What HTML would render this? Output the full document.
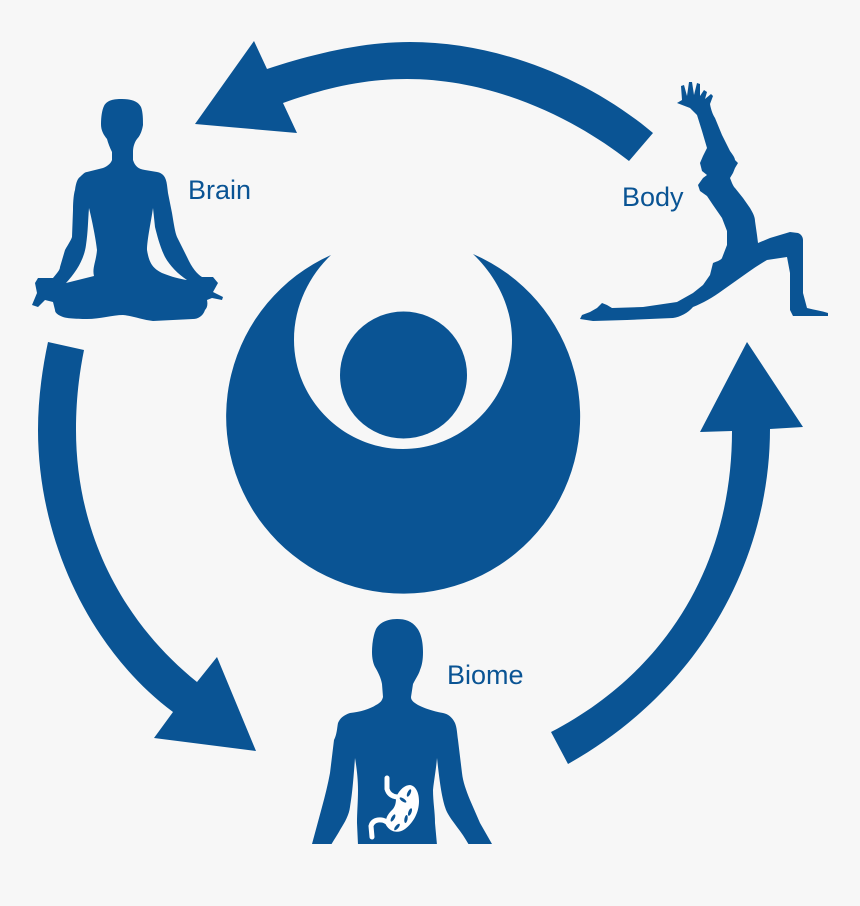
<!DOCTYPE html>
<html>
<head>
<meta charset="utf-8">
<style>
  html,body{margin:0;padding:0;background:#f7f7f7;}
  svg{display:block;}
  .t{font-family:"Liberation Sans",sans-serif;font-size:27px;fill:#0a5494;}
</style>
</head>
<body>
<svg width="860" height="906" viewBox="0 0 860 906" xmlns="http://www.w3.org/2000/svg">
  <rect width="860" height="906" fill="#f7f7f7"/>
  <g fill="#0a5494">
    <!-- central logo -->
    <path d="M331,255 A177,177 0 1 0 473,254 C495,275 512,305 512,340 C512,400 463,449 403,449 C344,449 294,400 294,340 C294,305 310,275 331,255 Z"/>
    <circle cx="403.5" cy="375" r="63.5"/>

    <!-- top arrow -->
    <path d="M195,124 L254,41 L267,69 C310,55 360,42 410,42 C500,42 590,80 653,133 L629,161 C570,115 490,79 407,79 C360,79 320,90 283,103 L297,133 Z"/>
    <!-- left arrow -->
    <path d="M48,342 C42,370 38,400 38,430 C38,540 90,650 173,712 L154,738 L256,751 L217,657 L197,682 C120,620 76,530 76,430 C76,400 79,375 84,350 Z"/>
    <!-- right arrow -->
    <path d="M747,342 L803,427 L770,429 C770,560 700,690 568,764 L551,732 C670,670 732,560 732,431 L700,432 Z"/>

    <!-- Brain: meditating figure -->
    <path d="M112,160 L112,152 C110,148 108,143 107,139 C103,134 101,130 101,124 C101,117 102,110 104,106 C107,100 114,99 122,99 C131,99 138,101 141,107 C143,112 143,120 143,125 C142,131 140,136 137,139 C134,143 133,148 133,152 L133,160 C135,166 138,169 145,170 L157,172 C163,173 166,177 167,185 L168,193 L172,213 C174,225 175,232 177,237 L187,257 C192,268 197,274 202,277 L213,277 L218,283 L213,292 L223,297 L222,300 L212,298 L207,300 C208,305 207,308 205,310 C203,316 198,319 193,319 L153,321 C143,320 133,316 123,315 C113,315 100,319 87,319 C75,319 65,318 63,317 C58,315 55,313 55,310 L53,302 L45,300 L38,307 L32,305 L37,293 L35,283 L38,278 L53,278 C57,273 60,270 60,267 L65,250 C69,243 71,240 72,237 L73,210 C73,200 74,193 75,190 C76,182 78,178 80,177 C83,174 85,172 87,172 L103,168 C108,166 111,163 112,160 Z"/>

    <!-- Body: lunge figure -->
    <path d="M677,103 L682,100 L681,86 L684,85 L687,96 L689,82 L692,82 L694,95 L697,83 L700,84 L700,96 L704,90 L707,92 L705,99 L711,94 L713,96 L710,104 C711,110 713,115 715,118 L722,135 L730,151 C733,155 735,158 735,160 L738,163 L735,168 L733,173 L730,178 C732,183 733,186 735,188 L743,198 L750,208 C753,213 755,217 755,221 L757,235 L758,243 L770,238 L790,232 L798,233 C801,234 803,237 803,240 L803,260 L803,293 L807,308 C815,310 822,311 828,313 L828,316 L793,316 L790,310 L790,273 L787,257 L767,260 C760,264 754,268 747,273 L723,290 C712,298 703,303 693,307 C688,313 680,317 673,318 L627,320 L593,321 L580,319 L582,315 L590,312 L597,308 L602,303 L607,305 L612,308 L643,307 L677,302 L693,293 L703,285 L710,275 L713,263 C718,261 721,260 722,258 L727,245 L727,231 L722,218 L713,205 L707,196 L700,191 L698,185 L703,178 L707,175 L702,171 L700,163 L703,156 L707,148 L702,131 L697,115 L690,108 Z"/>

    <!-- Biome: torso figure -->
    <path d="M397,619 C388,619 380,622 376,629 C373,636 372,645 372,652 C372,658 373,663 375,667 C378,672 381,678 382,684 L383,697 C382,701 380,703 376,705 C370,709 360,712 350,713 C344,715 340,718 338,723 C337,728 337,734 334,740 L330,773 C328,784 325,796 322,807 L312,844 L492,844 L480,823 L470,800 C466,790 463,782 462,773 L458,740 C457,733 457,728 455,723 C452,717 448,714 443,713 C432,711 424,708 418,705 C413,702 411,700 411,697 L413,684 C416,678 419,674 420,670 C422,665 423,660 423,652 C423,642 421,633 417,628 C412,621 405,619 397,619 Z"/>
  </g>

  <!-- gaps in figures -->
  <g fill="#f7f7f7">
    <path d="M89,208 C92,220 96,240 97,250 C96,262 92,268 94,276 L66,283 C76,272 84,260 86,245 C88,232 88,220 89,208 Z"/>
    <path d="M153,208 C151,222 147,240 147,250 C149,262 152,268 162,273 C172,277 180,279 187,280 C178,274 170,266 165,257 C160,247 157,235 155,227 Z"/>
    <!-- biome arm gaps -->
    <path d="M355,758 C357,770 358,780 358,790 C358,802 357,812 357,823 L358,845 L331,845 C335,838 338,834 340,830 C345,822 349,815 350,807 C352,795 353,785 355,758 Z"/>
    <path d="M437,758 C436,770 434,780 433,790 C433,802 435,812 435,823 L437,845 L469,845 C465,838 461,832 457,827 C452,820 447,814 445,807 C442,797 440,786 437,758 Z"/>
  </g>

  <!-- stomach -->
  <g>
    <path d="M387,778 L387,789 Q389,796 397,797" fill="none" stroke="#ffffff" stroke-width="5" stroke-linecap="round"/>
    <path d="M396,797 C400,789 405,785 410,785 C416,786 419,793 419,801 C419,813 413,823 405,829 C398,834 390,832 386,825 C385,817 389,813 393,809 C396,805 396,801 396,797 Z" fill="#ffffff"/>
    <path d="M388,823 C382,818 373,819 371,826 L372,837" fill="none" stroke="#ffffff" stroke-width="5" stroke-linecap="round"/>
    <g fill="#0a5494">
      <ellipse cx="409" cy="793" rx="4" ry="1.6" transform="rotate(-65 409 793)"/>
      <ellipse cx="403" cy="800" rx="4" ry="1.6" transform="rotate(35 403 800)"/>
      <ellipse cx="410" cy="812" rx="4" ry="1.6" transform="rotate(-70 410 812)"/>
      <ellipse cx="393" cy="818" rx="4" ry="1.6" transform="rotate(-60 393 818)"/>
      <ellipse cx="406" cy="819" rx="4" ry="1.6" transform="rotate(-80 406 819)"/>
      <ellipse cx="397" cy="827" rx="4" ry="1.6" transform="rotate(-50 397 827)"/>
    </g>
  </g>

  <!-- labels -->
  <text class="t" x="188" y="199">Brain</text>
  <text class="t" x="622" y="206">Body</text>
  <text class="t" x="447" y="684">Biome</text>
</svg>
</body>
</html>
